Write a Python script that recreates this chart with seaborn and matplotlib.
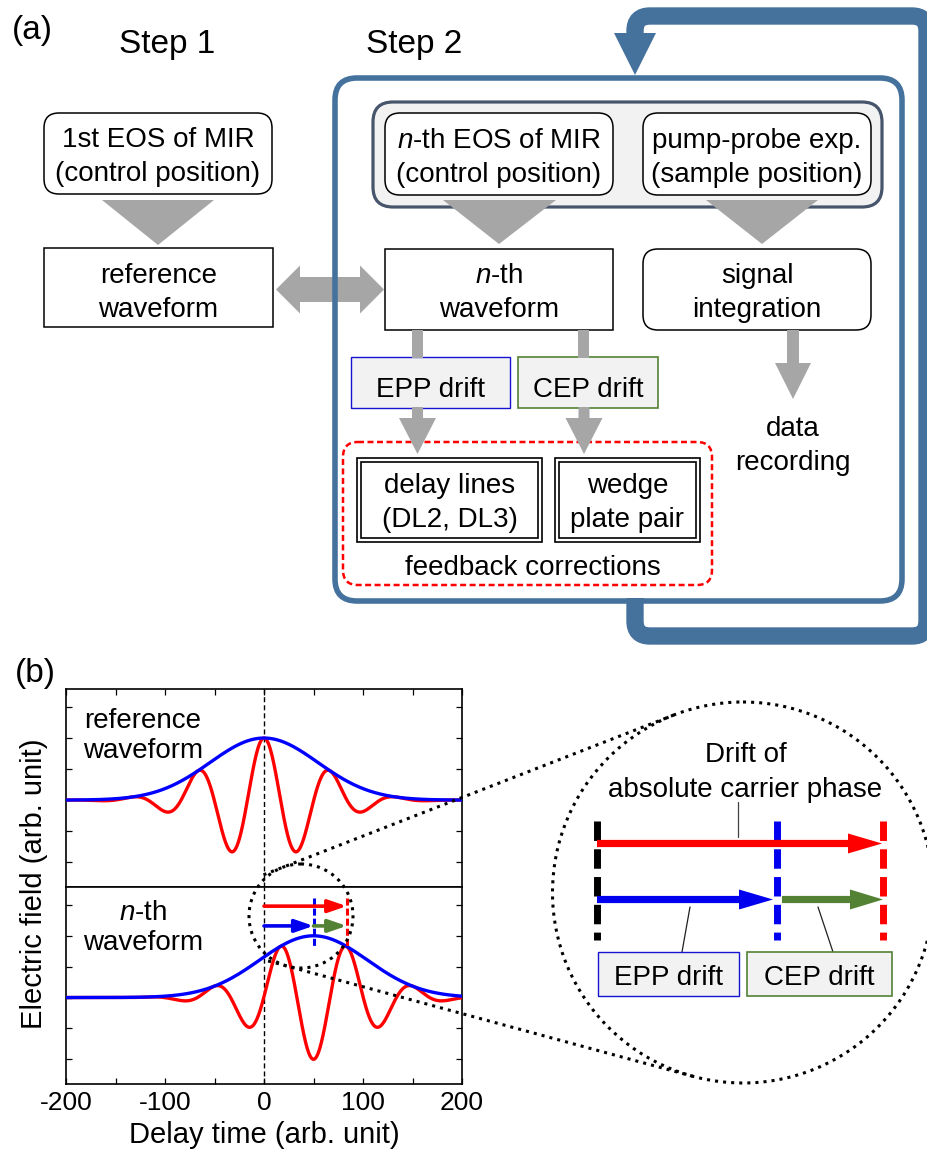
import numpy as np
import matplotlib
matplotlib.use("Agg")
import matplotlib.pyplot as plt
import seaborn as sns
from matplotlib.patches import FancyBboxPatch, Rectangle, Polygon, Circle, FancyArrowPatch, PathPatch
from matplotlib.path import Path

# ---------------- data ----------------
delay_limits = [-200, 200]
delay_ticks = [-200, -100, 0, 100, 200]
delay_minor_ticks = [-150, -50, 50, 150]
field_ticks = [-1.0, -0.5, 0.0, 0.5, 1.0, 1.5]
field_limits = [-1.40, 1.79]
waveform_names = ["reference", "n-th"]
envelope_center = [0.0, 50.0]      # pulse envelope peak position
carrier_peak = [0.0, 83.5]         # carrier maximum position
carrier_period = 67.0
envelope_width = 77.0
field_amplitude = 1.0
epp_drift = 50.0                   # envelope peak position drift
absolute_phase_drift = 83.5        # absolute carrier phase drift

# ---------------- style ----------------
sns.set_style("ticks")
plt.rcParams["font.family"] = ["Liberation Sans", "DejaVu Sans"]
plt.rcParams["mathtext.fontset"] = "custom"
plt.rcParams["mathtext.rm"] = "Liberation Sans"
plt.rcParams["mathtext.it"] = "Liberation Sans:italic"
plt.rcParams["text.color"] = "black"
plt.rcParams["axes.labelcolor"] = "black"
plt.rcParams["xtick.color"] = "black"
plt.rcParams["ytick.color"] = "black"
plt.rcParams["axes.edgecolor"] = "black"

GRAY = "#a6a6a6"
FRAME = "#44729d"
SLATE = "#46556b"
LIGHT = "#f2f2f2"
GREEN = "#548235"
EPPBLUE = "#1414d2"

fig = plt.figure(figsize=(9.28, 11.55), dpi=100)
W, H = 928.0, 1155.0


def fig_rect(x0, y0, x1, y1):
    return [x0 / W, 1 - y1 / H, (x1 - x0) / W, (y1 - y0) / H]


# ---------------- panel (b) plots ----------------
t = np.linspace(delay_limits[0], delay_limits[1], 1601)
ax_top = fig.add_axes(fig_rect(66, 689, 462, 887))
ax_bot = fig.add_axes(fig_rect(66, 887, 462, 1084))
for i, ax in enumerate([ax_top, ax_bot]):
    env = field_amplitude * np.exp(-((t - envelope_center[i]) / envelope_width) ** 2)
    field = env * np.cos(2 * np.pi * (t - carrier_peak[i]) / carrier_period)
    sns.lineplot(x=t, y=field, ax=ax, color="#ff0000", lw=2.4, zorder=3)
    sns.lineplot(x=t, y=env, ax=ax, color="#0000ff", lw=2.4, zorder=4)
    ax.axvline(0, color="k", lw=1.0, ls=(0, (3.6, 2.2)), zorder=2)
    ax.set_xlim(delay_limits)
    ax.set_ylim(field_limits)
    ax.set_yticks(field_ticks)
    ax.set_xticks(delay_ticks)
    ax.set_xticks(delay_minor_ticks, minor=True)
    ax.tick_params(axis="both", which="both", direction="in", length=4.5, width=0.9,
                   left=True, right=True, labelleft=False, color="black")
    for s in ax.spines.values():
        s.set_linewidth(1.2)
        s.set_color("k")
    ax.set_xlabel("")
    ax.set_ylabel("")

ax_top.tick_params(axis="x", which="both", top=True, bottom=False, labelbottom=False)
ax_bot.tick_params(axis="x", which="both", top=False, bottom=True, labelbottom=True,
                   labelsize=19, pad=5, labelcolor="black")
ax_bot.set_xticklabels([str(v) for v in delay_ticks])
ax_bot.set_xlabel("Delay time (arb. unit)", fontsize=21, color="black")
ax_bot.xaxis.set_label_coords(0.5, -0.19)
ax_bot.set_ylabel("Electric field (arb. unit)", fontsize=21, color="black")
ax_bot.yaxis.set_label_coords(-0.045, 1.015)

# drift markers in the n-th waveform
ax_bot.plot([epp_drift, epp_drift], [1.61, 0.81], color="#0000ee", lw=2.2,
            ls=(0, (2.3, 1.0)), zorder=5)
ax_bot.plot([absolute_phase_drift, absolute_phase_drift], [1.61, 0.83], color="#ff0000",
            lw=2.2, ls=(0, (2.3, 1.0)), zorder=5)
arrow_specs = [
    (0.0, absolute_phase_drift, 1.48, "#ff0000"),
    (0.0, epp_drift, 1.16, "#0000ee"),
    (epp_drift, absolute_phase_drift, 1.16, GREEN),
]
for xa, xb, yv, col in arrow_specs:
    ax_bot.add_patch(FancyArrowPatch((xa, yv), (xb, yv),
                                     arrowstyle="-|>,head_length=11,head_width=3.8",
                                     mutation_scale=1, lw=2.6, color=col,
                                     shrinkA=0, shrinkB=0, zorder=6))

# ---------------- overlay in pixel coordinates ----------------
ov = fig.add_axes([0, 0, 1, 1])
ov.set_xlim(0, W)
ov.set_ylim(H, 0)
ov.axis("off")
ov.patch.set_alpha(0)


def rbox(x0, y0, x1, y1, r, ec="k", fc="white", lw=1.1, ls="-", z=3):
    ov.add_patch(FancyBboxPatch((x0, y0), x1 - x0, y1 - y0,
                                boxstyle=f"round,pad=0,rounding_size={r}",
                                ec=ec, fc=fc, lw=lw, ls=ls, zorder=z))


def sbox(x0, y0, x1, y1, ec="k", fc="white", lw=1.1, z=3):
    ov.add_patch(Rectangle((x0, y0), x1 - x0, y1 - y0, ec=ec, fc=fc, lw=lw, zorder=z))


def poly(pts, color, z=4):
    ov.add_patch(Polygon(pts, closed=True, fc=color, ec="none", zorder=z))


def harrow(x0, x1, y, hs, hh, hl, color, z=5):
    poly([(x0, y - hs), (x1 - hl, y - hs), (x1 - hl, y - hh), (x1, y),
          (x1 - hl, y + hh), (x1 - hl, y + hs), (x0, y + hs)], color, z)


def varrow(x, y0, y1, hs, hh, hl, color, z=5):
    poly([(x - hs, y0), (x - hs, y1 - hl), (x - hh, y1 - hl), (x, y1),
          (x + hh, y1 - hl), (x + hs, y1 - hl), (x + hs, y0)], color, z)


def txt(x, y, s, size=20, ha="center", **kw):
    ov.text(x, y, s, fontsize=size, ha=ha, va="baseline", zorder=10, color="black", **kw)


def rounded_path(pts, r):
    verts = [pts[0]]
    codes = [Path.MOVETO]
    for i in range(1, len(pts) - 1):
        p0, p1, p2 = (np.array(pts[i - 1], float), np.array(pts[i], float),
                      np.array(pts[i + 1], float))
        d0 = (p1 - p0) / np.linalg.norm(p1 - p0)
        d1 = (p2 - p1) / np.linalg.norm(p2 - p1)
        a, b = p1 - d0 * r, p1 + d1 * r
        verts += [tuple(a), tuple(p1), tuple(b)]
        codes += [Path.LINETO, Path.CURVE3, Path.CURVE3]
    verts.append(pts[-1])
    codes.append(Path.LINETO)
    return Path(verts, codes)


# labels
txt(12, 39, "(a)", size=24, ha="left")
txt(15, 682, "(b)", size=24, ha="left")
txt(167, 53, "Step 1", size=24)
txt(414, 53, "Step 2", size=24)

# Step 1 column
rbox(44, 113, 272, 194, 15)
txt(158, 147, "1st EOS of MIR")
txt(158, 181, "(control position)")
poly([(102, 200), (214, 200), (158, 245)], GRAY)
sbox(44, 248, 273, 327)
txt(158.5, 283, "reference")
txt(158.5, 317, "waveform")

# double arrow
poly([(276, 289.5), (300, 265.5), (300, 277), (360, 277), (360, 265.5), (384, 289.5),
      (360, 313.5), (360, 302), (300, 302), (300, 313.5)], GRAY, z=2)

# Step 2 frame and feedback loop
rbox(335, 78, 902, 601, 22, ec=FRAME, fc="none", lw=4.0, z=3)
loop = rounded_path([(635, 598), (635, 636), (927, 636), (927, 16), (635, 16), (635, 40)], 15)
ov.add_patch(PathPatch(loop, fill=False, ec=FRAME, lw=12.5, capstyle="butt",
                       joinstyle="miter", zorder=3))
poly([(614, 33), (656, 33), (635, 75)], FRAME, z=3)

# gray group box
rbox(373, 102, 882, 207, 20, ec=SLATE, fc=LIGHT, lw=2.3, z=3)
rbox(385, 113, 613, 195, 15, z=4)
txt(499, 148, r"$n$-th EOS of MIR")
txt(499, 182, "(control position)")
rbox(643, 113, 871, 195, 15, z=4)
txt(757, 148, "pump-probe exp.")
txt(757, 182, "(sample position)")
poly([(443, 200), (556, 200), (499, 244)], GRAY, z=5)
poly([(706, 200), (818, 200), (762, 244)], GRAY, z=5)

sbox(385, 249, 613, 330)
txt(499, 283, r"$n$-th")
txt(499, 317, "waveform")
rbox(643, 249, 871, 330, 15)
txt(757, 283, "signal")
txt(757, 317, "integration")

# drift boxes
sbox(412, 330, 423, 358, ec="none", fc=GRAY, z=4)
sbox(578.5, 330, 589.5, 358, ec="none", fc=GRAY, z=4)
sbox(351, 357, 510, 408, ec=EPPBLUE, fc=LIGHT, lw=1.0)
txt(430.5, 397, "EPP drift")
sbox(518, 357, 658, 408, ec=GREEN, fc=LIGHT, lw=1.2)
txt(588, 397, "CEP drift")

# feedback corrections
rbox(343, 442, 712, 585, 15, ec="#ff0000", fc="none", lw=1.8, ls=(0, (2.4, 1.4)), z=2)
for (x0, x1) in [(357, 542), (555, 700)]:
    sbox(x0, 458, x1, 542, lw=1.2, z=3)
    sbox(x0 + 4, 462, x1 - 4, 538, lw=1.2, fc="none", z=3)
txt(449.5, 493, "delay lines")
txt(449.5, 527, "(DL2, DL3)")
txt(627.5, 493, "wedge")
txt(627.5, 527, "plate pair")
txt(533, 575, "feedback corrections")
varrow(417.5, 407, 454, 5.5, 18.5, 36, GRAY)
varrow(584, 407, 454, 5.5, 18.5, 36, GRAY)

# data recording
varrow(793, 330, 399, 6, 18, 36, GRAY)
txt(793, 436, "data")
txt(793, 470, "recording")

# ---------------- zoom circles ----------------
c1, r1 = np.array([301.0, 916.0]), 52.0
c2, r2 = np.array([743.0, 892.5]), 190.5
ov.add_patch(Circle(tuple(c1), r1, fill=False, ec="k", lw=2.2, ls=":", zorder=8))
ov.add_patch(Circle(tuple(c2), r2, fill=False, ec="k", lw=2.2, ls=":", zorder=8))
E = (r2 * c1 - r1 * c2) / (r2 - r1)
v = c2 - E
base = np.arctan2(v[1], v[0])
alpha = np.arcsin(r2 / np.linalg.norm(v))
for sgn in (-1, 1):
    th = base + sgn * alpha
    d = np.array([np.cos(th), np.sin(th)])
    T1 = E + d * np.dot(c1 - E, d)
    T2 = E + d * np.dot(c2 - E, d)
    P1 = T1 - d * 20
    ov.plot([P1[0], T2[0]], [P1[1], T2[1]], color="k", lw=2.2, ls=":", zorder=8)

# inside the big circle
txt(746, 762, "Drift of")
txt(745, 797, "absolute carrier phase")
vdash = (0, (2.8, 1.2))
ov.plot([597, 597], [821, 940], color="k", lw=5.0, ls=vdash, zorder=6)
ov.plot([777, 777], [821, 940], color="#0000ee", lw=5.0, ls=vdash, zorder=6)
ov.plot([883, 883], [821, 940], color="#ff0000", lw=5.0, ls=vdash, zorder=6)
harrow(597, 882, 843.5, 3.6, 10, 34, "#ff0000", z=7)
harrow(597, 773, 899.5, 3.6, 10, 34, "#0000ee", z=7)
harrow(782, 883, 899.5, 3.6, 10, 33, GREEN, z=7)
ov.plot([738, 738], [802, 837], color="#404040", lw=0.9, zorder=6)
ov.plot([690, 682], [907, 952], color="#202020", lw=0.9, zorder=6)
ov.plot([818, 833], [907, 952], color="#202020", lw=0.9, zorder=6)
sbox(598, 952, 739, 996, ec=EPPBLUE, fc=LIGHT, lw=1.0, z=7)
txt(668.5, 985, "EPP drift")
sbox(747, 952, 892, 996, ec=GREEN, fc=LIGHT, lw=1.2, z=7)
txt(819.5, 985, "CEP drift")

# panel (b) waveform labels
txt(143, 728, "reference")
txt(143, 758, "waveform")
txt(143, 920, r"$n$-th")
txt(143, 950, "waveform")

fig.savefig("out.png", dpi=100)
